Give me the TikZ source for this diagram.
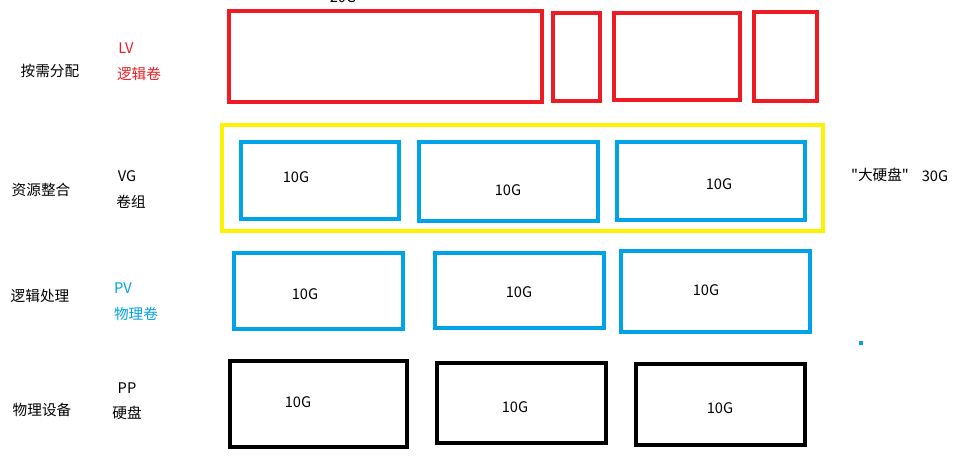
\documentclass[tikz,border=0pt]{standalone}
\usepackage{fontspec}
\setmainfont{Noto Sans CJK SC}
\newfontfamily\quotefont{Noto Sans CJK SC}
\definecolor{lvred}{HTML}{ED1C24}
\definecolor{pvblue}{HTML}{00A2E8}
\definecolor{vgyellow}{HTML}{FFF200}
\tikzset{
    redbox/.style={draw=lvred, line width=3pt},
    bluebox/.style={draw=pvblue, line width=3pt},
    blackbox/.style={draw=black, line width=3pt},
    yellowbox/.style={draw=vgyellow, line width=3pt},
    txt/.style={inner sep=0pt, font=\fontsize{12.5}{15}\selectfont},
}
\begin{document}
\begin{tikzpicture}[x=0.03cm, y=-0.03cm]
    \useasboundingbox (0,0) rectangle (962,461);

    % --- LV: RED ---
    \node[txt] (size20) at (343,-3) {20G};
    \draw[redbox] (229,11) rectangle (542,102);
    \draw[redbox] (553,13) rectangle (600,101);
    \draw[redbox] (614,13) rectangle (740,100);
    \draw[redbox] (754,12) rectangle (817,101);

    % --- VG: YELLOW ---
    \draw[yellowbox] (222,125) rectangle (823,231);
    \draw[bluebox] (241,142) rectangle (399,219);
    \draw[bluebox] (419,142) rectangle (598,221);
    \draw[bluebox] (617,142) rectangle (805,220);
    \node[txt] (vg1) at (296,177) {10G};
    \node[txt] (vg2) at (508,190) {10G};
    \node[txt] (vg3) at (719,184) {10G};
    \node[txt] (big) at (880,175) {\quotefont "大硬盘"};
    \node[txt] (size30) at (935,176) {30G};

    % --- PV: BLUE ---
    \draw[bluebox] (234,253) rectangle (403,329);
    \draw[bluebox] (435,253) rectangle (604,328);
    \draw[bluebox] (621,251) rectangle (810,332);
    \node[txt] (pv1) at (305,294) {10G};
    \node[txt] (pv2) at (519,292) {10G};
    \node[txt] (pv3) at (706,290) {10G};
    \fill[pvblue] (859,341) rectangle (863,345);

    % --- PP: BLACK ---
    \draw[blackbox] (230,361) rectangle (407,447);
    \draw[blackbox] (437,363) rectangle (606,443);
    \draw[blackbox] (636,364) rectangle (805,445);
    \node[txt] (pp1) at (298,402) {10G};
    \node[txt] (pp2) at (515,407) {10G};
    \node[txt] (pp3) at (720,408) {10G};

    % Left labels
    \node[txt] (alloc) at (50,71) {按需分配};
    \node[txt] (merge) at (41,190) {资源整合};
    \node[txt] (logic) at (40,296) {逻辑处理};
    \node[txt] (device) at (42,410) {物理设备};
    \node[txt, text=lvred] (lv) at (126,48) {LV};
    \node[txt, text=lvred] (lvname) at (139,74) {逻辑卷};
    \node[txt] (vg) at (127,176) {VG};
    \node[txt] (vgname) at (131,202) {卷组};
    \node[txt, text=pvblue] (pv) at (123,288) {PV};
    \node[txt, text=pvblue] (pvname) at (136,314) {物理卷};
    \node[txt] (pp) at (127,388) {PP};
    \node[txt] (ppname) at (127,413) {硬盘};
\end{tikzpicture}
\end{document}
